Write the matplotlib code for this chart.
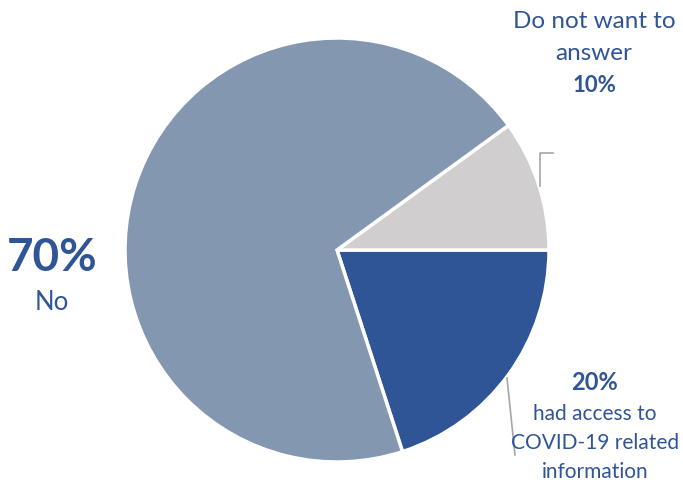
import matplotlib.pyplot as plt

shares = [20, 10, 70]
colors = ['#2F5597', '#D0CECE', '#8497B0']
text_color = '#2F5597'

W, H = 683, 483
fig = plt.figure(figsize=(W / 100, H / 100), dpi=100)
ax = fig.add_axes([0, 0, 1, 1])

ax.pie(shares, colors=colors, startangle=-72, counterclock=True,
       center=(337, H - 250), radius=212,
       wedgeprops=dict(edgecolor='white', linewidth=2.5))
ax.set_xlim(0, W)
ax.set_ylim(0, H)
ax.set_aspect('equal')
ax.axis('off')

font = 'Lato'

# labels
ax.text(594, H - 22, 'Do not want to', ha='center', va='center', fontsize=17.5, color=text_color, family=font)
ax.text(594, H - 54, 'answer', ha='center', va='center', fontsize=17.5, color=text_color, family=font)
ax.text(594, H - 85, '10%', ha='center', va='center', fontsize=16, color=text_color, family=font, weight='bold')

ax.text(595, H - 382, '20%', ha='center', va='center', fontsize=17, color=text_color, family=font, weight='bold')
ax.text(595, H - 414, 'had access to', ha='center', va='center', fontsize=15, color=text_color, family=font)
ax.text(595, H - 443, 'COVID-19 related', ha='center', va='center', fontsize=15, color=text_color, family=font)
ax.text(595, H - 472, 'information', ha='center', va='center', fontsize=15, color=text_color, family=font)

ax.text(52, H - 258, '70%', ha='center', va='center', fontsize=33, color=text_color, family=font, weight='bold')
ax.text(52, H - 303, 'No', ha='center', va='center', fontsize=18.5, color=text_color, family=font)

# leader lines
ax.plot([540, 540, 553], [H - 186, H - 153, H - 153], color='#A6A6A6', lw=1.2)
ax.plot([507, 515], [H - 378, H - 455], color='#A6A6A6', lw=1.2)

fig.savefig('out.png', dpi=100)
